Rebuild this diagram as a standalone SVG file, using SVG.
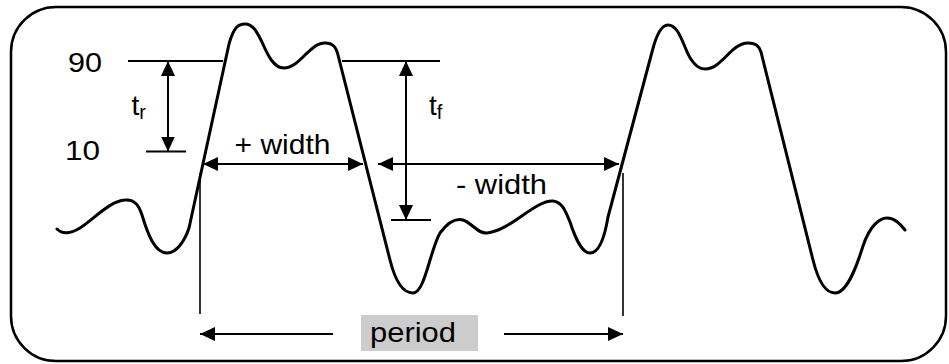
<svg xmlns="http://www.w3.org/2000/svg" width="949" height="364" viewBox="0 0 949 364">
<style>
.lbl{font-family:"Liberation Sans",Arial,sans-serif;font-size:28px;fill:#000}
.sub{font-size:20px}
.dim{stroke:#000;stroke-width:2;fill:none}
.thin{stroke:#000;stroke-width:1.6;fill:none}
.wave{stroke:#000;stroke-width:3;fill:none;stroke-linejoin:round;stroke-linecap:round}
</style>
<defs>
<marker id="ah" viewBox="0 0 15 14" refX="15" refY="7" markerWidth="15" markerHeight="14" markerUnits="userSpaceOnUse" orient="auto-start-reverse">
<path d="M0,0 L15,7 L0,14 z" fill="#000"/>
</marker>
</defs>
<rect x="11" y="7" width="935" height="354" rx="45" ry="45" fill="#fff" stroke="#000" stroke-width="2.5"/>
<g id="waveform">
<path class="wave" d="M57,229 C62,234 70,234 80,228 C95,218 110,201 125,200 C135,199 139,206 142,215 C148,235 155,253 167,253 C177,253 185,240 189,228 L229,44 C234,26 239,24 245,24 C253,24 257,32 262,42 C268,56 274,68 284,68 C300,68 309,43 325,43 C333,43 336,47 338,55 L390,260 C395,280 402,293 413,293 C425,293 430,250 440,233 C448,222 456,218 463,220 C472,223 478,234 487,233 C510,231 535,200 553,201 C562,202 565,210 570,222 C576,240 582,253 590,253 C600,253 605,235 608,217 L652,52 C657,32 662,25 668,25 C676,25 680,35 685,47 C690,60 697,69 705,69 C722,69 731,43 748,43 C756,43 759,46 761,52 L813,260 C818,280 825,293 835,293 C848,293 858,262 863,246 C870,225 880,218 887,218 C895,218 900,224 905,230"/>
</g>
<g id="levels">
<text class="lbl" x="68" y="72" textLength="34" lengthAdjust="spacingAndGlyphs">90</text>
<text class="lbl" x="65" y="160" textLength="35" lengthAdjust="spacingAndGlyphs">10</text>
</g>
<g id="connectors">
<line class="dim" x1="128" y1="61" x2="223" y2="61"/>
<line class="dim" x1="146" y1="151.5" x2="186" y2="151.5"/>
<line class="dim" x1="342" y1="61" x2="440" y2="61"/>
<line class="dim" x1="391" y1="220" x2="431" y2="220"/>
<line class="dim" x1="168" y1="61" x2="168" y2="151.5" marker-start="url(#ah)" marker-end="url(#ah)"/>
<line class="dim" x1="406" y1="61" x2="406" y2="220" marker-start="url(#ah)" marker-end="url(#ah)"/>
<line class="dim" x1="203" y1="164" x2="363" y2="164" marker-start="url(#ah)" marker-end="url(#ah)"/>
<line class="dim" x1="378" y1="164" x2="619" y2="164" marker-start="url(#ah)" marker-end="url(#ah)"/>
<line class="thin" x1="200" y1="173" x2="200" y2="314"/>
<line class="thin" x1="623" y1="173" x2="623" y2="316"/>
<line class="dim" x1="333" y1="334" x2="200" y2="334" marker-end="url(#ah)"/>
<line class="dim" x1="504" y1="334" x2="623" y2="334" marker-end="url(#ah)"/>
</g>
<g id="tr">
<text class="lbl" x="131.5" y="114.5">t<tspan class="sub" dy="4.5">r</tspan></text>
</g>
<g id="tf">
<text class="lbl" x="429" y="114.5">t<tspan class="sub" dy="4.5">f</tspan></text>
</g>
<g id="pos-width">
<text class="lbl" x="234.5" y="154" textLength="96" lengthAdjust="spacingAndGlyphs">+ width</text>
</g>
<g id="neg-width">
<text class="lbl" x="456" y="194.3" textLength="91" lengthAdjust="spacingAndGlyphs">- width</text>
</g>
<g id="period">
<rect x="361" y="315" width="117" height="36" fill="#cccccc"/>
<text class="lbl" x="370" y="341.5" textLength="86" lengthAdjust="spacingAndGlyphs">period</text>
</g>
</svg>
